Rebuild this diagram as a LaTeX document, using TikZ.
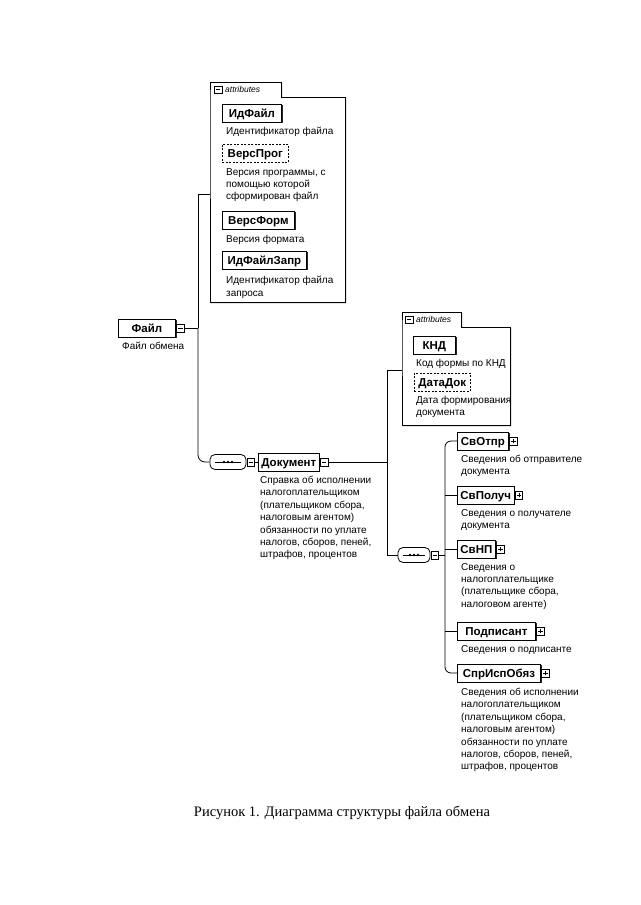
\documentclass[tikz,border=0pt]{standalone}
\usepackage{fontspec}
\setmainfont{Liberation Sans}
\newfontfamily\capfont{Liberation Serif}
\usetikzlibrary{shadows}
\newcommand{\elfont}{\bfseries\fontsize{11.5}{12}\selectfont}
\newcommand{\descfont}{\fontsize{10}{12.4}\selectfont}
\tikzset{
  el/.style={draw, line width=0.8pt, fill=white, font=\elfont, minimum height=18pt,
    text height=8.3pt, text depth=0pt,
    inner xsep=3pt, inner ysep=0pt, anchor=west,
    drop shadow={shadow xshift=1.2pt, shadow yshift=-1.2pt, fill=black!85, opacity=1}},
  opt/.style={draw, dashed, dash pattern=on 2pt off 1.5pt, line width=0.7pt, fill=white,
    text height=8.3pt, text depth=0pt,
    font=\elfont, minimum height=18pt, inner xsep=3pt, inner ysep=0pt, anchor=west},
  pmbase/.style={draw, line width=0.5pt, fill=white, minimum size=7.5pt, inner sep=0pt, anchor=west},
  minusbox/.style={pmbase, path picture={\draw[line width=0.6pt]
      ([xshift=1.5pt]path picture bounding box.west) -- ([xshift=-1.5pt]path picture bounding box.east);}},
  plusbox/.style={pmbase, path picture={\draw[line width=0.6pt]
      ([xshift=1.5pt]path picture bounding box.west) -- ([xshift=-1.5pt]path picture bounding box.east)
      ([yshift=1.5pt]path picture bounding box.south) -- ([yshift=-1.5pt]path picture bounding box.north);}},
  desc/.style={anchor=north west, align=left, font=\descfont, inner sep=0pt},
  ln/.style={line width=0.8pt},
  attrbox/.style={draw, line width=0.8pt, fill=white,
    drop shadow={shadow xshift=1.2pt, shadow yshift=-1.2pt, fill=black!85, opacity=1}},
  tablabel/.style={anchor=west, font=\itshape\fontsize{8.5}{9}\selectfont, inner sep=0pt},
  comp/.style={draw, line width=0.8pt, fill=white, rounded corners=5pt},
}
\begin{document}
\begin{tikzpicture}[x=1pt,y=-1pt]
\useasboundingbox (0,0) rectangle (640,905);

% ---------- attributes box 1 ----------
\draw[attrbox] (210,97) -- (210,82) -- (281,82) -- (281,97) -- (345,97) -- (345,302) -- (210,302) -- cycle;
\node[minusbox] (t1m) at (214,89.5) {};
\node[tablabel] (t1l) at (225,89.5) {attributes};
\node[el, minimum width=59pt] (idf) at (222,113) {ИдФайл};
\node[desc] (d1) at (226,127) {Идентификатор файла};
\node[opt, minimum width=66pt] (vp) at (222,153) {ВерсПрог};
\node[desc] (d2) at (226,168) {Версия программы, с\\помощью которой\\сформирован файл};
\node[el, minimum width=72pt] (vf) at (222,220) {ВерсФорм};
\node[desc] (d3) at (226,235) {Версия формата};
\node[el, minimum width=84pt] (idz) at (222,260) {ИдФайлЗапр};
\node[desc] (d4) at (226,276) {Идентификатор файла\\запроса};
\coordinate (a1w) at (210,194);

% ---------- root ----------
\node[el, minimum width=57pt] (file) at (118,328) {Файл};
\node[minusbox] (filem) at ([xshift=0.5pt]file.east) {};
\node[desc] (dfile) at (122,342) {Файл обмена};
\coordinate (j1) at (198,328);
\coordinate (j1t) at (198,194);
\draw[ln] (filem.east) -- (j1);
\draw[ln] (a1w) -- (j1t) -- (j1);

% ---------- sequence 1 ----------
\node[comp, minimum width=36pt, minimum height=15pt, inner sep=0pt] (s1) at (228,462) {};
\draw[line width=0.8pt] ([xshift=5pt]s1.west) -- ([xshift=-5pt]s1.east);
\foreach \dx in {-4,0,4} \fill ([xshift=\dx pt]s1.center) circle (1.4pt);
\node[minusbox] (s1m) at ([xshift=0.5pt]s1.east) {};
\draw[ln, rounded corners=7pt] (j1) -- (198,462) -- (s1.west);

% ---------- Документ ----------
\node[el, minimum width=60pt] (doc) at (258,462) {Документ};
\node[minusbox] (docm) at ([xshift=0.5pt]doc.east) {};
\draw[ln] (s1m.east) -- (doc.west);
\node[desc] (ddoc) at (260,476) {Справка об исполнении\\налогоплательщиком\\(плательщиком сбора,\\налоговым агентом)\\обязанности по уплате\\налогов, сборов, пеней,\\штрафов, процентов};
\coordinate (j2) at (387,462);
\draw[ln] (docm.east) -- (j2);

% ---------- attributes box 2 ----------
\draw[attrbox] (402,327) -- (402,312) -- (461,312) -- (461,327) -- (510,327) -- (510,425) -- (402,425) -- cycle;
\node[minusbox] (t2m) at (405,319.5) {};
\node[tablabel] (t2l) at (416,319.5) {attributes};
\node[el, minimum width=42pt] (knd) at (413,345) {КНД};
\node[desc] (d5) at (416,359) {Код формы по КНД};
\node[opt, minimum width=56pt] (dd) at (414,382) {ДатаДок};
\node[desc] (d6) at (416,396) {Дата формирования\\документа};
\coordinate (a2w) at (402,370);
\draw[ln] (a2w) -- (387,370) -- (387,555);

% ---------- sequence 2 ----------
\node[comp, minimum width=32pt, minimum height=15pt, inner sep=0pt] (s2) at (414,555) {};
\draw[line width=0.8pt] ([xshift=5pt]s2.west) -- ([xshift=-5pt]s2.east);
\foreach \dx in {-4,0,4} \fill ([xshift=\dx pt]s2.center) circle (1.4pt);
\node[minusbox] (s2m) at ([xshift=0.5pt]s2.east) {};
\draw[ln] (387,555) -- (s2.west);
\coordinate (j3) at (445,555);
\draw[ln] (s2m.east) -- (j3);

% ---------- children ----------
\node[el, minimum width=51pt] (c1) at (457,441) {СвОтпр};
\node[plusbox] (c1p) at ([xshift=0.5pt]c1.east) {};
\node[desc] (dc1) at (461,455) {Сведения об отправителе\\документа};
\node[el, minimum width=56pt] (c2) at (457,495) {СвПолуч};
\node[plusbox] (c2p) at ([xshift=0.5pt]c2.east) {};
\node[desc] (dc2) at (461,509) {Сведения о получателе\\документа};
\node[el, minimum width=38pt] (c3) at (457,549) {СвНП};
\node[plusbox] (c3p) at ([xshift=0.5pt]c3.east) {};
\node[desc] (dc3) at (461,563) {Сведения о\\налогоплательщике\\(плательщике сбора,\\налоговом агенте)};
\node[el, minimum width=78pt] (c4) at (457,631) {Подписант};
\node[plusbox] (c4p) at ([xshift=0.5pt]c4.east) {};
\node[desc] (dc4) at (461,645) {Сведения о подписанте};
\node[el, minimum width=83pt] (c5) at (457,673) {СпрИспОбяз};
\node[plusbox] (c5p) at ([xshift=0.5pt]c5.east) {};
\node[desc] (dc5) at (461,688) {Сведения об исполнении\\налогоплательщиком\\(плательщиком сбора,\\налоговым агентом)\\обязанности по уплате\\налогов, сборов, пеней,\\штрафов, процентов};

\draw[ln, rounded corners=6pt] (c1.west) -- (445,441) -- (445,673) -- (c5.west);
\draw[ln] (445,495) -- (c2.west);
\draw[ln] (445,549) -- (c3.west);
\draw[ln] (445,631) -- (c4.west);

% ---------- caption ----------
\node[font=\capfont\fontsize{14.5}{16}\selectfont, inner sep=0pt] (cap) at (342,813) {Рисунок 1. Диаграмма структуры файла обмена};
\end{tikzpicture}
\end{document}
